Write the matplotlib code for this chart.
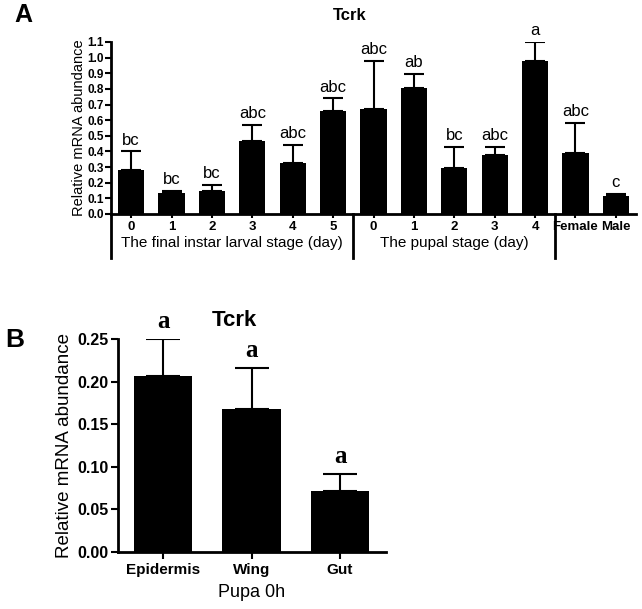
import matplotlib
matplotlib.use("Agg")
import matplotlib.pyplot as plt
import numpy as np

plt.rcParams["font.family"] = ["Liberation Sans", "DejaVu Sans"]

# Panel A: relative mRNA abundance across stages
STAGE_TICKS = ["0", "1", "2", "3", "4", "5", "0", "1", "2", "3", "4", "Female", "Male"]
MEAN_A  = [0.282, 0.137, 0.150, 0.468, 0.325, 0.656, 0.673, 0.803, 0.293, 0.380, 0.981, 0.391, 0.115]
ERR_A   = [0.118, 0.013, 0.036, 0.100, 0.117, 0.083, 0.303, 0.090, 0.138, 0.047, 0.119, 0.194, 0.015]
SIG_A   = ["bc", "bc", "bc", "abc", "abc", "abc", "abc", "ab", "bc", "abc", "a", "abc", "c"]
GROUPS  = ["The final instar larval stage (day)", "The pupal stage (day)"]

# Panel B: tissues at pupa 0h
TISSUES = ["Epidermis", "Wing", "Gut"]
MEAN_B  = [0.206, 0.1675, 0.0714]
ERR_B   = [0.044, 0.0485, 0.0196]
SIG_B   = ["a", "a", "a"]

W, H = 642, 609
fig = plt.figure(figsize=(W / 100, H / 100), dpi=100)


def style_axes(ax):
    for s in ["top", "right"]:
        ax.spines[s].set_visible(False)
    for s in ["left", "bottom"]:
        ax.spines[s].set_linewidth(2)
    ax.tick_params(width=1.5, length=4, color="black")


# ---------------- Panel A ----------------
axA = fig.add_axes([111 / W, 1 - 214 / H, 525 / W, 172 / H])
xa = np.arange(len(MEAN_A))
axA.bar(xa, MEAN_A, width=0.65, color="black")
axA.errorbar(xa, MEAN_A, yerr=[np.zeros(len(ERR_A)), ERR_A], fmt="none",
             ecolor="black", elinewidth=1.5, capsize=7.5, capthick=1.5)
for x, m, e, s in zip(xa, MEAN_A, ERR_A, SIG_A):
    axA.text(x, m + e + 0.025, s, ha="center", va="bottom", fontsize=12)
axA.set_xlim(-0.5, 12.5)
axA.set_ylim(0, 1.1)
axA.set_yticks(np.arange(0, 1.11, 0.1))
axA.set_yticklabels([f"{v:.1f}" for v in np.arange(0, 1.11, 0.1)],
                    fontsize=8.5, fontweight="bold")
axA.set_xticks(xa)
axA.set_xticklabels(STAGE_TICKS, fontsize=9.5, fontweight="bold")
for lbl in axA.get_xticklabels()[-2:]:
    lbl.set_fontsize(9.5)
    lbl.set_family(["Liberation Sans Narrow", "Liberation Sans"])
style_axes(axA)
axA.tick_params(axis="x", length=3, pad=2)
axA.tick_params(axis="y", length=4, pad=1)
axA.set_ylabel("Relative mRNA abundance", fontsize=10.5, labelpad=1)
# group separators below the x axis
for xs in [-0.5, 5.5, 10.5]:
    axA.plot([xs, xs], [0, -0.256], transform=axA.get_xaxis_transform(),
             color="black", lw=2, clip_on=False)
axA.text(2.5, -0.17, GROUPS[0], transform=axA.get_xaxis_transform(),
         ha="center", va="center", fontsize=11)
axA.text(8.0, -0.17, GROUPS[1], transform=axA.get_xaxis_transform(),
         ha="center", va="center", fontsize=11)
fig.text(350 / W, 1 - 15 / H, "Tcrk", ha="center", va="center",
         fontsize=12, fontweight="bold")
fig.text(23 / W, 1 - 15 / H, "A", ha="center", va="center",
         fontsize=18, fontweight="bold")

# ---------------- Panel B ----------------
axB = fig.add_axes([118 / W, 1 - 551.7 / H, 268 / W, 212.7 / H])
xb = np.arange(len(MEAN_B))
axB.bar(xb, MEAN_B, width=0.66, color="black")
axB.errorbar(xb, MEAN_B, yerr=[np.zeros(len(ERR_B)), ERR_B], fmt="none",
             ecolor="black", elinewidth=1.5, capsize=12, capthick=1.5)
for x, m, e, s in zip(xb, MEAN_B, ERR_B, SIG_B):
    axB.text(x, m + e + 0.007, s, ha="center", va="bottom", fontsize=18,
             fontweight="bold", family=["Liberation Serif", "DejaVu Serif"])
axB.set_xlim(-0.51, 2.52)
axB.set_ylim(0, 0.25)
axB.set_yticks(np.arange(0, 0.251, 0.05))
axB.set_yticklabels([f"{v:.2f}" for v in np.arange(0, 0.251, 0.05)],
                    fontsize=11.5, fontweight="bold")
axB.set_xticks(xb)
axB.set_xticklabels(TISSUES, fontsize=11, fontweight="bold")
style_axes(axB)
axB.tick_params(axis="x", length=5, pad=3)
axB.tick_params(axis="y", length=5, pad=2)
axB.set_ylabel("Relative mRNA abundance", fontsize=13.5, labelpad=3)
axB.set_xlabel("Pupa 0h", fontsize=13, labelpad=5)
fig.text(234 / W, 1 - 320 / H, "Tcrk", ha="center", va="center",
         fontsize=16, fontweight="bold")
fig.text(15 / W, 1 - 340 / H, "B", ha="center", va="center",
         fontsize=19, fontweight="bold")

fig.savefig("out.png", dpi=100)
